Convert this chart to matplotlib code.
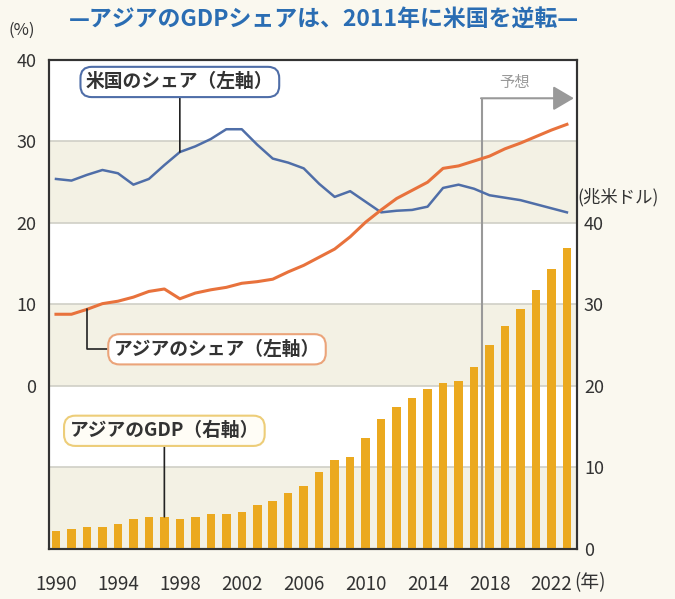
"""Asia vs US GDP share chart (recreation)."""

import matplotlib.pyplot as plt
import numpy as np

plt.rcParams["font.family"] = ["Noto Sans CJK JP", "DejaVu Sans"]

years = np.arange(1990, 2024)

# Asia GDP, trillion USD (right axis)
asia_gdp = [2.2, 2.45, 2.7, 2.7, 3.05, 3.7, 3.9, 3.95, 3.7, 3.9,
            4.3, 4.3, 4.5, 5.4, 5.9, 6.9, 7.7, 9.4, 10.9, 11.3,
            13.6, 15.9, 17.4, 18.5, 19.6, 20.4, 20.6, 22.3, 25.0, 27.4,
            29.4, 31.8, 34.4, 36.9]

# shares of world GDP, % (left axis)
us_share = [25.4, 25.2, 25.9, 26.5, 26.1, 24.7, 25.4, 27.1, 28.7, 29.4,
            30.3, 31.5, 31.5, 29.6, 27.9, 27.4, 26.7, 24.8, 23.2, 23.9,
            22.6, 21.3, 21.5, 21.6, 22.0, 24.3, 24.7, 24.2, 23.4, 23.1,
            22.8, 22.3, 21.8, 21.3]
asia_share = [8.8, 8.8, 9.4, 10.1, 10.4, 10.9, 11.6, 11.9, 10.7, 11.4,
              11.8, 12.1, 12.6, 12.8, 13.1, 14.0, 14.8, 15.8, 16.8, 18.3,
              20.1, 21.6, 23.0, 24.0, 25.0, 26.7, 27.0, 27.6, 28.2, 29.1,
              29.8, 30.6, 31.4, 32.1]

year_ticks = list(range(1990, 2023, 4))
left_ticks = [0, 10, 20, 30, 40]
right_ticks = [0, 10, 20, 30, 40]
forecast_start = 2018

BG = "#faf8ef"
BAND = "#f3f1e4"
BLUE = "#4f6ea8"
ORANGE = "#e8723c"
GOLD = "#eba91f"
TEXT = "#333333"

fig = plt.figure(figsize=(6.75, 5.99), dpi=100, facecolor=BG)
ax = fig.add_axes([0.0726, 0.0835, 0.7822, 0.8164])
ax.set_facecolor("white")
ax2 = ax.twinx()

ax.set_xlim(1989.55, 2023.65)
ax.set_ylim(-20, 40)
ax2.set_ylim(0, 60)

# alternating background bands and grid
for lo in (20, 0, -20):
    ax.axhspan(lo, lo + 10, color=BAND, zorder=0, lw=0)
for g in (-10, 0, 10, 20, 30):
    ax.axhline(g, color="#cfcfc6", lw=1.2, zorder=0.5)

# bars (right axis)
ax2.bar(years, asia_gdp, width=0.55, color=GOLD, zorder=2)

# share lines (left axis)
ax.plot(years, us_share, color=BLUE, lw=1.8, zorder=3)
ax.plot(years, asia_share, color=ORANGE, lw=2.2, zorder=3)

# forecast marker
fx = forecast_start - 0.5
top = 35.3
ax.vlines(fx, -20, top, color="#999999", lw=1.5, zorder=1)
ax.annotate("", xy=(2023.45, top), xytext=(fx - 0.05, top),
            arrowprops=dict(arrowstyle="-|>,head_length=0.85,head_width=0.5",
                            color="#999999", lw=1.5, mutation_scale=15,
                            shrinkA=0, shrinkB=0))
ax.text(2019.6, 36.2, "予想", color="#999999", fontsize=11,
        ha="center", va="bottom")

box_font = 13.5

# labels with leader lines
i98 = list(years).index(1998)
ax.annotate("米国のシェア（左軸）", xy=(1998, us_share[i98]), xytext=(1998, 37.3),
            ha="center", va="center", fontsize=box_font, color=TEXT, fontweight="bold",
            bbox=dict(boxstyle="round,pad=0.3,rounding_size=0.6", fc="white",
                      ec=BLUE, lw=1.5),
            arrowprops=dict(arrowstyle="-", color="#222222", lw=1.2,
                            shrinkA=0, shrinkB=0), zorder=4)

i92 = list(years).index(1992)
ax.annotate("アジアのシェア（左軸）", xy=(1992, asia_share[i92]), xytext=(2000.4, 4.5),
            ha="center", va="center", fontsize=box_font, color=TEXT, fontweight="bold",
            bbox=dict(boxstyle="round,pad=0.3,rounding_size=0.6", fc="white",
                      ec="#eba47a", lw=1.5),
            arrowprops=dict(arrowstyle="-", color="#222222", lw=1.2,
                            shrinkA=0, shrinkB=0, relpos=(0, 0.5),
                            connectionstyle="angle,angleA=0,angleB=90,rad=0"),
            zorder=4)

i97 = list(years).index(1997)
ax2.annotate("アジアのGDP（右軸）", xy=(1997, asia_gdp[i97]), xytext=(1997, 14.5),
             ha="center", va="center", fontsize=box_font, color=TEXT, fontweight="bold",
             bbox=dict(boxstyle="round,pad=0.3,rounding_size=0.6", fc="#fffdf6",
                       ec="#edcd78", lw=1.5),
             arrowprops=dict(arrowstyle="-", color="#222222", lw=1.2,
                             shrinkA=0, shrinkB=0), zorder=4)

# axes styling
for a in (ax, ax2):
    for s in a.spines.values():
        s.set_color(TEXT)
        s.set_linewidth(1.5)
ax.set_xticks(year_ticks)
ax.set_xticklabels([str(y) for y in year_ticks])
ax.tick_params(axis="x", length=0, pad=18, labelsize=13.5, labelcolor=TEXT)
ax.set_yticks(left_ticks)
ax.tick_params(axis="y", length=0, pad=9, labelsize=13, labelcolor=TEXT)
ax2.set_yticks(right_ticks)
ax2.tick_params(axis="y", length=0, pad=5, labelsize=13, labelcolor=TEXT)

fig.text(0.012, 0.95, "(%)", fontsize=12, color=TEXT, ha="left", va="center")
fig.text(0.856, 0.671, "(兆米ドル)", fontsize=12.5, color=TEXT, ha="left", va="center")
fig.text(0.851, 0.027, "(年)", fontsize=13.5, color=TEXT, ha="left", va="center")
fig.text(0.48, 0.967, "—アジアのGDPシェアは、2011年に米国を逆転—", fontsize=16.5,
         fontweight="bold", color="#2a6db3", ha="center", va="center")

fig.savefig("out.png", dpi=100, facecolor=BG)
